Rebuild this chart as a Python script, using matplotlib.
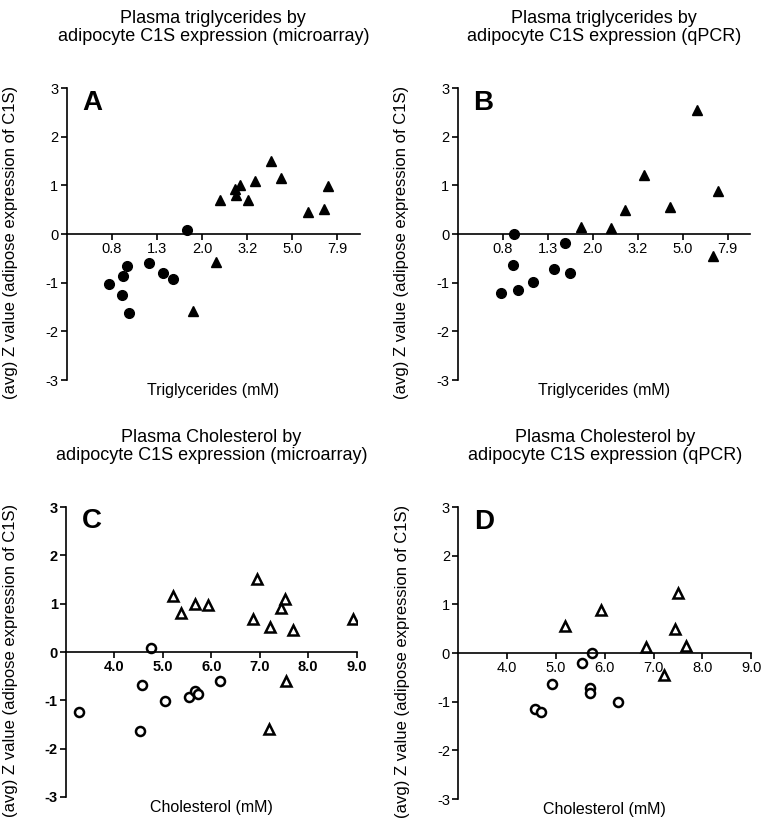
import numpy as np
import matplotlib
matplotlib.use("Agg")
import matplotlib.pyplot as plt

plt.rcParams['font.family'] = ['Liberation Sans', 'DejaVu Sans']
plt.rcParams['axes.unicode_minus'] = False

# Panel A: triglycerides (mM) vs Z value, microarray
a_circ_x = [0.77, 0.93, 0.89, 0.88, 0.95, 1.16, 1.34, 1.48, 1.71]
a_circ_y = [-1.02, -0.66, -0.87, -1.25, -1.62, -0.59, -0.80, -0.93, 0.075]
a_tri_x = [2.40, 2.31, 1.82, 2.81, 2.79, 2.95, 3.18, 3.41, 4.02, 4.45, 5.86, 6.90, 7.24]
a_tri_y = [0.69, -0.58, -1.58, 0.81, 0.92, 1.00, 0.69, 1.10, 1.51, 1.15, 0.45, 0.51, 0.98]

# Panel B: triglycerides vs Z value, qPCR
b_circ_x = [0.89, 0.88, 0.78, 0.93, 1.08, 1.35, 1.51, 1.58]
b_circ_y = [0.0, -0.63, -1.21, -1.14, -0.99, -0.71, -0.18, -0.80]
b_tri_x = [1.78, 2.41, 2.78, 3.39, 4.42, 5.82, 7.17, 6.86]
b_tri_y = [0.14, 0.12, 0.50, 1.22, 0.56, 2.54, 0.88, -0.45]

# Panel C: cholesterol (mM) vs Z value, microarray
c_circ_x = [3.27, 4.57, 4.53, 4.75, 5.05, 5.53, 5.67, 5.72, 6.17]
c_circ_y = [-1.25, -0.68, -1.63, 0.076, -1.02, -0.94, -0.81, -0.86, -0.61]
c_tri_x = [5.21, 5.37, 5.67, 5.93, 6.94, 6.86, 7.22, 7.51, 7.44, 7.68, 7.55, 7.19, 8.93]
c_tri_y = [1.15, 0.81, 1.00, 0.97, 1.52, 0.69, 0.51, 1.10, 0.92, 0.45, -0.59, -1.59, 0.69]

# Panel D: cholesterol vs Z value, qPCR
d_circ_x = [4.57, 4.69, 4.91, 5.53, 5.73, 5.70, 5.70, 6.27]
d_circ_y = [-1.15, -1.22, -0.63, -0.20, 0.0, -0.72, -0.82, -1.00]
d_tri_x = [5.19, 5.92, 6.85, 7.21, 7.43, 7.50, 7.66]
d_tri_y = [0.56, 0.88, 0.12, -0.46, 0.50, 1.23, 0.14]

tg_ticks = 10 ** np.array([-0.1, 0.1, 0.3, 0.5, 0.7, 0.9])
tg_labels = ["0.8", "1.3", "2.0", "3.2", "5.0", "7.9"]
ch_ticks = [4.0, 5.0, 6.0, 7.0, 8.0, 9.0]
ch_labels = ["4.0", "5.0", "6.0", "7.0", "8.0", "9.0"]

titles = ["Plasma triglycerides by\nadipocyte C1S expression (microarray)",
          "Plasma triglycerides by\nadipocyte C1S expression (qPCR)",
          "Plasma Cholesterol by\nadipocyte C1S expression (microarray)",
          "Plasma Cholesterol by\nadipocyte C1S expression (qPCR)"]
ylab = "(avg) Z value (adipose expression of C1S)"

fig = plt.figure(figsize=(7.62, 8.19), dpi=100)
rects = [[0.0875, 0.536, 0.385, 0.3565],
         [0.6004, 0.536, 0.384, 0.3565],
         [0.0866, 0.0269, 0.3815, 0.354],
         [0.6014, 0.0244, 0.3845, 0.3565]]


def setup(ax, title, letter, xlabel, bold=False):
    for s in ['top', 'right']:
        ax.spines[s].set_visible(False)
    ax.spines['bottom'].set_position(('data', 0))
    ax.spines['left'].set_linewidth(1.2)
    ax.spines['bottom'].set_linewidth(1.2)
    ax.set_ylim(-3, 3)
    ax.set_yticks([-3, -2, -1, 0, 1, 2, 3])
    ax.tick_params(width=1.2, length=4, labelsize=10.5, pad=2)
    ax.set_title(title, fontsize=13, pad=34, linespacing=1.05)
    ax.text(0.055, 0.995, letter, transform=ax.transAxes, fontsize=20,
            fontweight='bold', va='top', ha='left')
    ax.set_xlabel(xlabel, fontsize=11.5)
    ax.xaxis.set_label_coords(0.5, -0.01)
    ax.set_ylabel(ylab, fontsize=12)
    ax.yaxis.set_label_coords(-0.165, 0.47)
    if bold:
        for lab in ax.get_xticklabels() + ax.get_yticklabels():
            lab.set_fontweight('bold')


# A and B: filled markers on log axis
panels_tg = [(a_circ_x, a_circ_y, a_tri_x, a_tri_y, "A"),
             (b_circ_x, b_circ_y, b_tri_x, b_tri_y, "B")]
for i, (cx, cy, tx, ty, letter) in enumerate(panels_tg):
    ax = fig.add_axes(rects[i])
    ax.plot(cx, cy, 'o', color='black', ms=7, ls='none', clip_on=False)
    ax.plot(tx, ty, '^', color='black', ms=7.5, ls='none', clip_on=False)
    ax.set_xscale('log')
    ax.set_xlim(10 ** -0.3, 10 ** 1.0)
    ax.set_xticks(tg_ticks)
    ax.set_xticklabels(tg_labels)
    ax.minorticks_off()
    setup(ax, titles[i], letter, "Triglycerides (mM)")

# C and D: open markers on linear axis
panels_ch = [(c_circ_x, c_circ_y, c_tri_x, c_tri_y, "C", True),
             (d_circ_x, d_circ_y, d_tri_x, d_tri_y, "D", False)]
for j, (cx, cy, tx, ty, letter, bold) in enumerate(panels_ch):
    ax = fig.add_axes(rects[j + 2])
    ax.plot(cx, cy, 'o', mfc='white', mec='black', mew=1.8, ms=6.5, ls='none')
    ax.plot(tx, ty, '^', mfc='white', mec='black', mew=1.8, ms=7.5, ls='none')
    ax.set_xlim(3, 9)
    ax.set_xticks(ch_ticks)
    ax.set_xticklabels(ch_labels)
    setup(ax, titles[j + 2], letter, "Cholesterol (mM)", bold=bold)

fig.savefig("out.png", dpi=100)
